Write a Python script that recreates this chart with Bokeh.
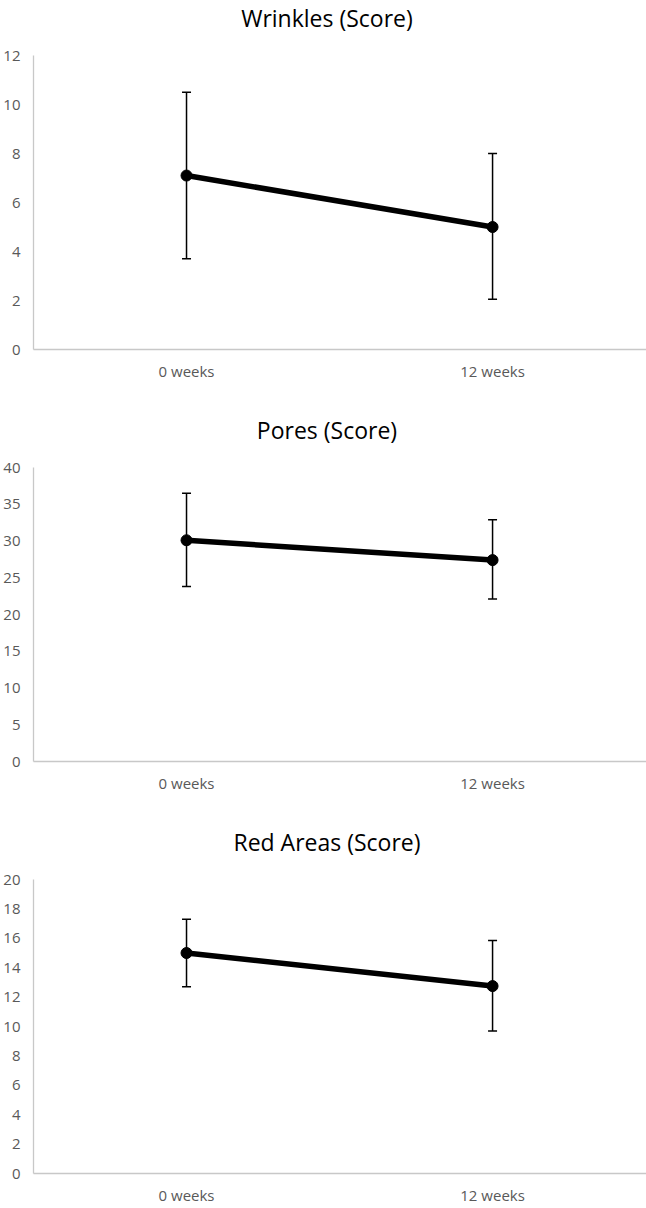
from bokeh.plotting import figure
from bokeh.models import Range1d, FixedTicker, Whisker, ColumnDataSource, TeeHead, Div
from bokeh.layouts import column
from bokeh.embed import file_html
from bokeh.resources import INLINE

categories = ["0 weeks", "12 weeks"]

wrinkles_mean = [7.1, 5.0]
wrinkles_low = [3.7, 2.05]
wrinkles_high = [10.5, 8.0]

pores_mean = [30.1, 27.4]
pores_low = [23.8, 22.1]
pores_high = [36.5, 32.9]

red_mean = [15.0, 12.75]
red_low = [12.7, 9.7]
red_high = [17.3, 15.85]

panels = [
    ("Wrinkles (Score)", wrinkles_mean, wrinkles_low, wrinkles_high, 12, 2),
    ("Pores (Score)", pores_mean, pores_low, pores_high, 40, 5),
    ("Red Areas (Score)", red_mean, red_low, red_high, 20, 2),
]

FONT = "Open Sans"
AXIS_COLOR = "#c8c8c8"
LABEL_COLOR = "#595959"
FRAME_W, FRAME_H = 613, 294
TITLE_H = 36


def make_title(title):
    return Div(
        text=title, width=646, height=TITLE_H, margin=0,
        styles={
            "font-family": FONT, "font-size": "23px", "color": "#000000",
            "text-align": "center", "line-height": f"{TITLE_H}px",
            "padding-left": "8px", "white-space": "nowrap",
        },
    )


def make_panel(means, lows, highs, ymax, ystep, bottom_border):
    xs = list(range(len(categories)))
    src = ColumnDataSource(dict(x=xs, y=means, lo=lows, hi=highs))
    p = figure(
        frame_width=FRAME_W, frame_height=FRAME_H,
        x_range=Range1d(-0.5, 1.503), y_range=Range1d(0, ymax),
        output_backend="svg", toolbar_location=None,
        min_border_left=33, min_border_right=0,
        min_border_top=55 - TITLE_H, min_border_bottom=bottom_border,
        margin=0,
    )

    p.outline_line_color = None
    p.xgrid.visible = False
    p.ygrid.visible = False
    p.background_fill_color = "white"
    p.border_fill_color = "white"

    for ax in (p.xaxis[0], p.yaxis[0]):
        ax.axis_line_color = AXIS_COLOR
        ax.axis_line_width = 1.3
        ax.major_tick_line_color = None
        ax.minor_tick_line_color = None
        ax.major_tick_out = 0
        ax.major_tick_in = 0
        ax.major_label_text_font = FONT
        ax.major_label_text_font_size = "15px"
        ax.major_label_text_color = LABEL_COLOR

    p.xaxis.ticker = FixedTicker(ticks=xs)
    p.xaxis.major_label_overrides = {i: c for i, c in zip(xs, categories)}
    p.xaxis.major_label_standoff = 11

    p.yaxis.ticker = FixedTicker(ticks=list(range(0, ymax + 1, ystep)))
    p.yaxis.major_label_standoff = 13

    w = Whisker(
        source=src, base="x", upper="hi", lower="lo", dimension="height",
        line_color="black", line_width=1.5,
        upper_head=TeeHead(size=9, line_color="black", line_width=1.5),
        lower_head=TeeHead(size=9, line_color="black", line_width=1.5),
    )
    p.add_layout(w)
    p.line("x", "y", source=src, line_color="black", line_width=5.5)
    p.scatter("x", "y", source=src, size=11, color="black")
    return p


items = []
borders = [63, 63, 34]
for i, (t, m, lo, hi, ymax, step) in enumerate(panels):
    items.append(make_title(t))
    items.append(make_panel(m, lo, hi, ymax, step, borders[i]))

layout = column(*items, spacing=0)
open("out.html", "w").write(file_html(layout, INLINE))
